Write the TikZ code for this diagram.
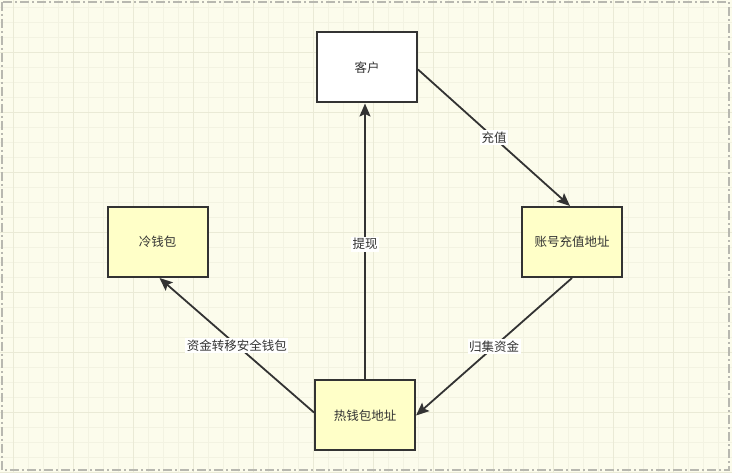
\documentclass[tikz,border=0pt]{standalone}
\usepackage{fontspec}
\setmainfont{Noto Sans CJK SC}
\usetikzlibrary{arrows.meta,calc}
\definecolor{pagebg}{HTML}{FCFCEC}
\definecolor{gridminor}{HTML}{F3F3E2}
\definecolor{gridmajor}{HTML}{EAEAD6}
\definecolor{boxyellow}{HTML}{FFFFC8}
\definecolor{linecol}{HTML}{333333}
\definecolor{framecol}{HTML}{B8B8B0}
\tikzset{
  box/.style={draw=linecol, line width=2pt, minimum width=100pt, minimum height=70pt, inner sep=0pt, text=linecol, font=\fontsize{12.5}{14}\selectfont},
  ybox/.style={box, fill=boxyellow},
  wbox/.style={box, fill=white},
  conn/.style={draw=linecol, line width=1.8pt, -{Stealth[length=13pt,width=11pt,inset=2.5pt]}},
  lbl/.style={fill=white, inner sep=1.5pt, text=linecol, font=\fontsize{12.5}{14}\selectfont}
}
\begin{document}
\begin{tikzpicture}[x=1pt,y=-1pt]
\useasboundingbox (0,0) rectangle (732,473);
\fill[pagebg] (0,0) rectangle (732,473);
\foreach \x in {13,28,...,730} \draw[gridminor, line width=0.6pt] (\x,0) -- (\x,473);
\foreach \y in {7,22,...,473} \draw[gridminor, line width=0.6pt] (0,\y) -- (732,\y);
\foreach \x in {13,73,...,730} \draw[gridmajor, line width=0.8pt] (\x,0) -- (\x,473);
\foreach \y in {52,112,...,473} \draw[gridmajor, line width=0.8pt] (0,\y) -- (732,\y);
\draw[framecol, line width=1.8pt, dash pattern=on 9pt off 3pt on 2pt off 3pt] (2,2) rectangle (729,470);

\node[wbox] (kh) at (367,67.5) {客户};
\node[ybox] (zh) at (572,242) {账号充值地址};
\node[ybox] (cold) at (157.5,242) {冷钱包};
\node[ybox] (hot) at (365,415.5) {热钱包地址};

\draw[conn] ($(kh.east)+(0,2)$) -- node[lbl, pos=0.5] {充值} ($(zh.north)+(-2,0)$);
\draw[conn] (zh.south) -- node[lbl, pos=0.5] {归集资金} (hot.east);
\draw[conn] ($(hot.west)+(0,-3)$) -- node[lbl, pos=0.5] {资金转移安全钱包} ($(cold.south)+(2,0)$);
\draw[conn] (hot.north) -- node[lbl, pos=0.49] {提现} (hot.north |- kh.south);
\end{tikzpicture}
\end{document}
